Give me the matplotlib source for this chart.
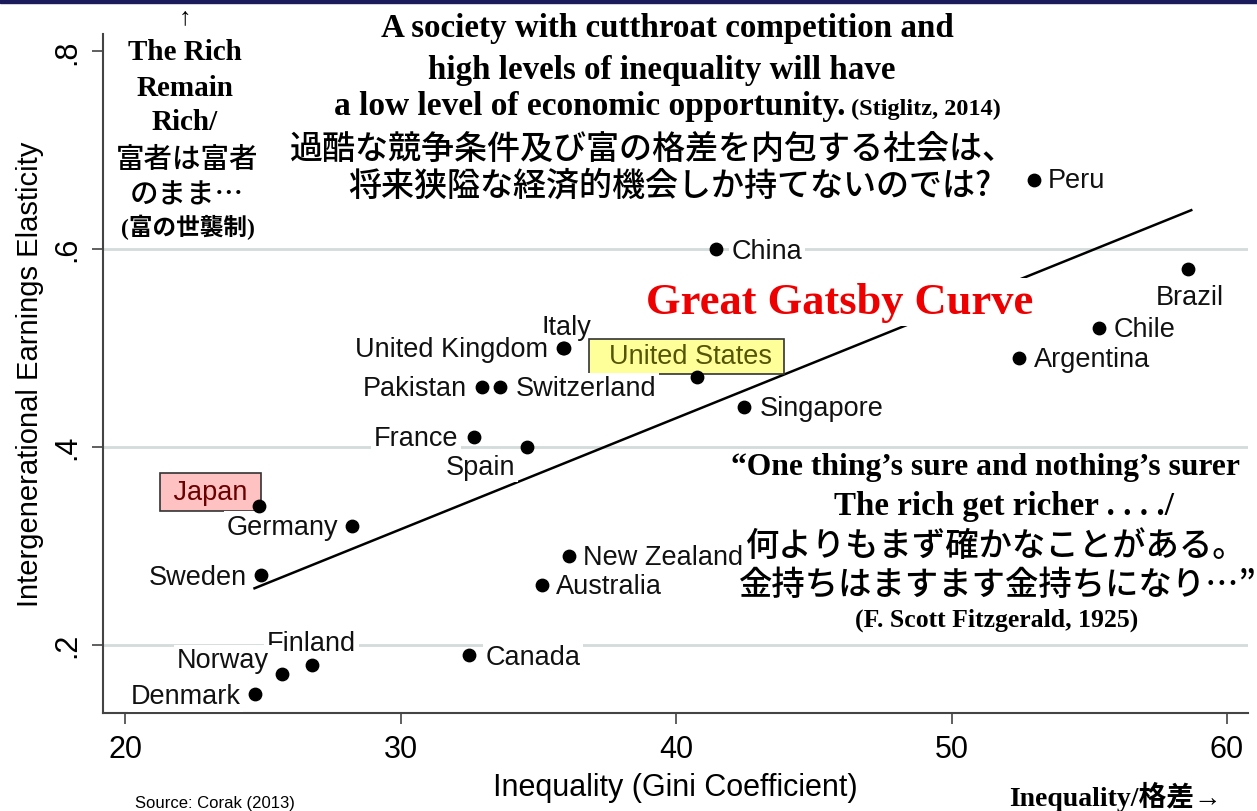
"""
Great Gatsby Curve: inequality vs intergenerational earnings elasticity.
"""
import matplotlib.pyplot as plt
from matplotlib.patches import Rectangle

W, H = 1257, 812

countries = ["Peru", "China", "Brazil", "Chile", "Argentina", "Italy",
             "United Kingdom", "United States", "Singapore", "Pakistan",
             "Switzerland", "France", "Spain", "Japan", "Germany", "Sweden",
             "New Zealand", "Australia", "Canada", "Finland", "Norway", "Denmark"]
gini = [53.0, 41.45, 58.6, 55.35, 52.45, 35.95, 35.9, 40.75, 42.45, 32.95,
        33.6, 32.65, 34.6, 24.85, 28.25, 24.95, 36.1, 35.15, 32.5, 26.8,
        25.7, 24.7]
ige = [0.67, 0.60, 0.58, 0.52, 0.49, 0.50, 0.50, 0.47, 0.44, 0.46,
       0.46, 0.41, 0.40, 0.34, 0.32, 0.27, 0.29, 0.26, 0.19, 0.18,
       0.17, 0.15]

# fitted line as drawn in the source chart
fit_gini = [24.7, 58.7]
fit_ige = [0.257, 0.639]

xticks = [20, 30, 40, 50, 60]
yticks = [0.2, 0.4, 0.6, 0.8]
ytick_labels = [".2", ".4", ".6", ".8"]

# label offsets in pixels (dx, dy up), alignment
placement = {
    "Peru": (14, -1, "left"), "China": (16, -2, "left"),
    "Brazil": (1, -28, "center"), "Chile": (15, -1, "left"),
    "Argentina": (15, -1, "left"), "Italy": (2, 21, "center"),
    "United Kingdom": (-15, -1, "right"), "United States": (-10, 21, "center"),
    "Singapore": (16, -1, "left"), "Pakistan": (-15, -1, "right"),
    "Switzerland": (16, -1, "left"), "France": (-15, -1, "right"),
    "Spain": (-12, -20, "right"), "Japan": (-48, 14, "center"),
    "Germany": (-14, -1, "right"), "Sweden": (-15, -2, "right"),
    "New Zealand": (14, -1, "left"), "Australia": (14, -1, "left"),
    "Canada": (16, -2, "left"), "Finland": (-1, 21, "center"),
    "Norway": (-13, 14, "right"), "Denmark": (-14, -2, "right"),
}

SANS = ["Liberation Sans", "DejaVu Sans"]
SERIF = ["Liberation Serif", "Noto Sans CJK JP", "DejaVu Sans"]
JP = ["Noto Sans CJK JP", "DejaVu Sans"]

fig = plt.figure(figsize=(W / 100, H / 100), dpi=100)


def fx(x, y):
    return x / W, 1 - y / H


ax = fig.add_axes([103 / W, 1 - 714 / H, (1248 - 103) / W, (714 - 35) / H])
ax.set_xlim(19.2, 60.76)
ax.set_ylim(0.131, 0.817)
for s in ["top", "right"]:
    ax.spines[s].set_visible(False)
for s in ["left", "bottom"]:
    ax.spines[s].set_color("#444444")
    ax.spines[s].set_linewidth(1.5)

ax.set_xticks(xticks)
ax.set_xticklabels([str(t) for t in xticks], fontsize=22, family=SANS)
ax.set_yticks(yticks)
ax.set_yticklabels(ytick_labels, fontsize=22, family=SANS, rotation=90, va="center")
ax.tick_params(length=8, width=1.2, color="#444444", pad=7)

for y in yticks[:3]:
    ax.axhline(y, color="#d3dbdb", lw=2, zorder=0)

ax.set_xlabel("Inequality (Gini Coefficient)", fontsize=22, family=SANS, labelpad=6)
ax.set_ylabel("Intergenerational Earnings Elasticity", fontsize=21, family=SANS, labelpad=6)

ax.plot(fit_gini, fit_ige, color="black", lw=1.8, zorder=2)
ax.scatter(gini, ige, s=80, color="black", zorder=5)

for name, x, y in zip(countries, gini, ige):
    dx, dy, ha = placement[name]
    kw = dict(fontsize=19.5, family=SANS, ha=ha, va="center", zorder=4,
              textcoords="offset points", xytext=(dx * 0.72, dy * 0.72))
    if name == "Japan":
        ax.annotate(" Japan ", (x, y), color="#6b0000",
                    bbox=dict(boxstyle="square,pad=0.22", fc="#ffc2c2", ec="#333333", lw=1.2), **kw)
    elif name == "United States":
        ax.annotate("  United States ", (x, y), color="#55550a",
                    bbox=dict(boxstyle="square,pad=0.18", fc="#ffff99", ec="#333333", lw=1.2), **kw)
    else:
        ax.annotate(name, (x, y), color="#111111",
                    bbox=dict(boxstyle="square,pad=0.1", fc="white", ec="none"), **kw)

ax.text(*ax.transAxes.inverted().transform(fig.transFigure.transform(fx(840, 303))),
        "Great Gatsby Curve", transform=ax.transAxes, fontsize=32, color="#ee0000",
        fontweight="bold", family=SERIF, ha="center", va="center", zorder=3,
        bbox=dict(boxstyle="square,pad=0.1", fc="white", ec="none"))

# navy band at the top
fig.patches.append(Rectangle((0, 1 - 4 / H), 1, 4 / H, transform=fig.transFigure,
                             color="#1b1b5c"))

# left annotation
fig.text(*fx(185, 18), "↑", fontsize=18, family=SERIF, ha="center", va="center")
for y, t in [(53, "The Rich"), (88, "Remain"), (123, "Rich/")]:
    fig.text(*fx(185, y), t, fontsize=21, fontweight="bold", family=SERIF,
             ha="center", va="center")
for y, t in [(160, "富者は富者"), (195, "のまま…")]:
    fig.text(*fx(187, y), t, fontsize=20.5, family=JP, fontweight="medium",
             ha="center", va="center")
fig.text(*fx(188, 227), "(富の世襲制)", fontsize=17, fontweight="bold", family=SERIF,
         ha="center", va="center")

# Stiglitz quote
fig.text(*fx(667, 28), "A society with cutthroat competition and", fontsize=23.8,
         fontweight="bold", family=SERIF, ha="center", va="center")
fig.text(*fx(662, 70), "high levels of inequality will have", fontsize=23.8,
         fontweight="bold", family=SERIF, ha="center", va="center")
fig.text(*fx(845, 107), "a low level of economic opportunity.", fontsize=24,
         fontweight="bold", family=SERIF, ha="right", va="center")
fig.text(*fx(851, 109), "(Stiglitz, 2014)", fontsize=17.5,
         fontweight="bold", family=SERIF, ha="left", va="center")
fig.text(*fx(653, 149), "過酷な競争条件及び富の格差を内包する社会は、", fontsize=23.8,
         family=JP, fontweight="medium", ha="center", va="center")
fig.text(*fx(670, 186), "将来狭隘な経済的機会しか持てないのでは?", fontsize=23.8,
         family=JP, fontweight="medium", ha="center", va="center")

# Fitzgerald quote
fig.text(*fx(731, 468), "“One thing’s sure and nothing’s surer", fontsize=22.8,
         fontweight="bold", family=SERIF, ha="left", va="center")
fig.text(*fx(1004, 507), "The rich get richer . . . ./", fontsize=23.8,
         fontweight="bold", family=SERIF, ha="center", va="center")
fig.text(*fx(996, 546), "何よりもまず確かなことがある。", fontsize=24,
         family=JP, fontweight="medium", ha="center", va="center")
fig.text(*fx(998, 585), "金持ちはますます金持ちになり…”", fontsize=24,
         family=JP, fontweight="medium", ha="center", va="center")
fig.text(*fx(997, 620), "(F. Scott Fitzgerald, 1925)", fontsize=18.5,
         fontweight="bold", family=SERIF, ha="center", va="center")

fig.text(*fx(1222, 797), "Inequality/格差→", fontsize=20, fontweight="bold",
         family=SERIF, ha="right", va="center")
fig.text(*fx(135, 811), "Source: Corak (2013)", fontsize=12, family=SANS,
         ha="left", va="bottom")

fig.savefig("out.png", dpi=100)
